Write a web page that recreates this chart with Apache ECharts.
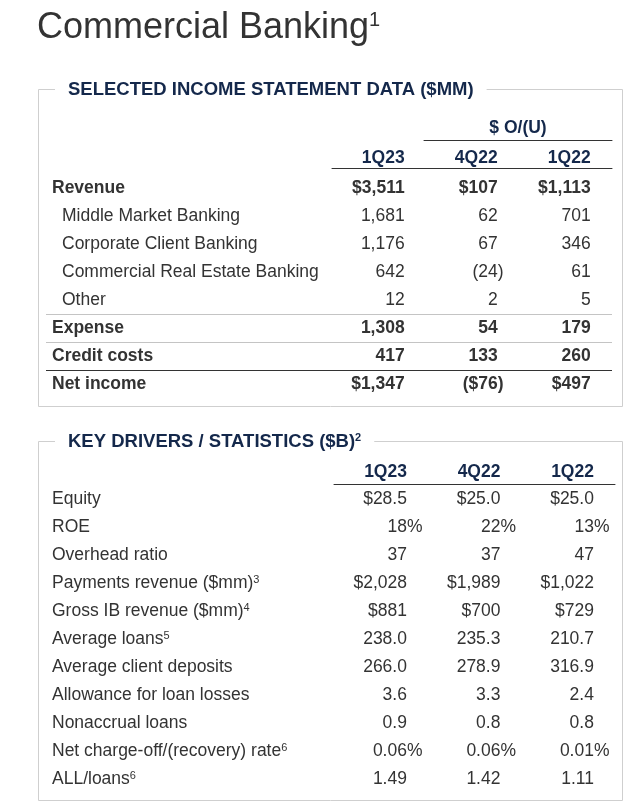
<!DOCTYPE html>
<html><head><meta charset="utf-8">
<script src="https://cdn.jsdelivr.net/npm/echarts@6/dist/echarts.min.js"></script>
<style>html,body{margin:0;padding:0;background:#fff}#c{width:632px;height:808px}</style>
</head><body><div id="c"></div>
<script>
// ---------------- DATA ----------------
const pageTitle = 'Commercial Banking';
const pageTitleNote = '1';
const section1Title = 'SELECTED INCOME STATEMENT DATA ($MM)';
const section2Title = 'KEY DRIVERS / STATISTICS ($B)';
const section2Note = '2';
const columns = ['1Q23', '4Q22', '1Q22'];
const changeHeader = '$ O/(U)';

const rows1 = ['Revenue', 'Middle Market Banking', 'Corporate Client Banking',
  'Commercial Real Estate Banking', 'Other', 'Expense', 'Credit costs', 'Net income'];
const boldRows1 = ['Revenue', 'Expense', 'Credit costs', 'Net income'];
const subRows1 = ['Middle Market Banking', 'Corporate Client Banking', 'Commercial Real Estate Banking', 'Other'];
const dollarRows1 = ['Revenue', 'Net income'];
const thinRuleBefore1 = ['Expense', 'Credit costs'];
const darkRuleBefore1 = ['Net income'];
const income1Q23 = [3511, 1681, 1176, 642, 12, 1308, 417, 1347];
const incomeVs4Q22 = [107, 62, 67, -24, 2, 54, 133, -76];
const incomeVs1Q22 = [1113, 701, 346, 61, 5, 179, 260, 497];

const rows2 = ['Equity', 'ROE', 'Overhead ratio', 'Payments revenue ($mm)', 'Gross IB revenue ($mm)',
  'Average loans', 'Average client deposits', 'Allowance for loan losses', 'Nonaccrual loans',
  'Net charge-off/(recovery) rate', 'ALL/loans'];
const notes2 = ['', '', '', '3', '4', '5', '', '', '', '6', '6'];
const stats1Q23 = [28.5, 18, 37, 2028, 881, 238.0, 266.0, 3.6, 0.9, 0.06, 1.49];
const stats4Q22 = [25.0, 22, 37, 1989, 700, 235.3, 278.9, 3.3, 0.8, 0.06, 1.42];
const stats1Q22 = [25.0, 13, 47, 1022, 729, 210.7, 316.9, 2.4, 0.8, 0.01, 1.11];
const prefix2 = ['$', '', '', '$', '$', '', '', '', '', '', ''];
const decimals2 = [1, 0, 0, 0, 0, 1, 1, 1, 1, 2, 2];
const suffix2 = ['', '%', '', '', '', '', '', '', '', '%', ''];

// ---------------- STYLE / LAYOUT ----------------
const FONT = '"Liberation Sans", Arial, Helvetica, sans-serif';
const TEXT = '#333333';
const NAVY = '#14284b';
const BOX = '#cfcfcf';
const THIN = '#c4c4c4';
const RULE = '#333333';
const FS = 17.5;
const CLEAR = 'rgba(0,0,0,0)';
const L1 = {anchor: 411, step: 93};
const L2 = {anchor: 423, step: 93.5};
function xr(left, width, L) { return {min: -(L.anchor - left) / L.step, max: (left + width - L.anchor) / L.step}; }

function num(v, d) { return Math.abs(v).toLocaleString('en-US', {minimumFractionDigits: d, maximumFractionDigits: d}); }
const txt = (w, c) => ({fontFamily: FONT, fontSize: FS, fontWeight: w, color: c || TEXT});

const G = {
  box1: {left: 38.5, top: 89.5, width: 584, height: 317},
  chg1: {left: 424, top: 140, width: 188, height: 10},
  hdr1: {left: 332, top: 148, width: 280, height: 20},
  body1: {left: 46, top: 174, width: 566, height: 224},
  box2: {left: 38.5, top: 441.5, width: 584, height: 359},
  hdr2: {left: 334, top: 460, width: 281, height: 24},
  body2: {left: 46, top: 485, width: 566, height: 308}
};
const hidden = {show: false};
const bare = {axisLine: hidden, axisTick: hidden, axisLabel: hidden, splitLine: hidden};
const ruleLine = {show: true, onZero: false, lineStyle: {color: RULE, width: 1}};

const grids = [
  Object.assign({show: true, borderColor: BOX, borderWidth: 1, backgroundColor: CLEAR}, G.box1),
  G.chg1, G.hdr1, G.body1,
  Object.assign({show: true, borderColor: BOX, borderWidth: 1, backgroundColor: CLEAR}, G.box2),
  G.hdr2, G.body2
];

const xAxes = [
  {gridIndex: 0, type: 'value', show: false},
  Object.assign({gridIndex: 1, type: 'value', position: 'top', min: 0, max: 1,
    name: changeHeader, nameLocation: 'middle', nameGap: 3,
    nameTextStyle: txt('bold', NAVY)}, bare, {axisLine: ruleLine}),
  Object.assign({gridIndex: 2, type: 'value', position: 'bottom'}, xr(G.hdr1.left, G.hdr1.width, L1), bare,
    {axisLine: ruleLine}),
  Object.assign({gridIndex: 3, type: 'value', show: false}, xr(G.body1.left, G.body1.width, L1)),
  {gridIndex: 4, type: 'value', show: false},
  Object.assign({gridIndex: 5, type: 'value', position: 'bottom'}, xr(G.hdr2.left, G.hdr2.width, L2), bare,
    {axisLine: ruleLine}),
  Object.assign({gridIndex: 6, type: 'value', show: false}, xr(G.body2.left, G.body2.width, L2))
];

const yAxes = [
  {gridIndex: 0, type: 'value', show: false},
  {gridIndex: 1, type: 'value', show: false},
  {gridIndex: 2, type: 'category', data: ['h'], show: false},
  Object.assign({gridIndex: 3, type: 'category', data: rows1, inverse: true}, bare, {
    axisLabel: {show: true, inside: true, margin: 6, interval: 0, hideOverlap: false,
      formatter: (n) => {
        const k = boldRows1.includes(n) ? 'b' : (subRows1.includes(n) ? 'i' : 'n');
        return '{' + k + '|' + n + '}';
      },
      rich: {b: txt('bold'), n: txt('normal'), i: Object.assign(txt('normal'), {padding: [0, 0, 0, 10]})}
    }
  }),
  {gridIndex: 3, type: 'value', show: false, inverse: true, min: 0, max: rows1.length},
  {gridIndex: 4, type: 'value', show: false},
  {gridIndex: 5, type: 'category', data: ['h'], show: false},
  Object.assign({gridIndex: 6, type: 'category', data: rows2, inverse: true}, bare, {
    axisLabel: {show: true, inside: true, margin: 6, interval: 0, hideOverlap: false,
      formatter: (n) => {
        const note = notes2[rows2.indexOf(n)];
        return '{n|' + n + '}' + (note ? '{s|' + note + '}' : '');
      },
      rich: {n: txt('normal'), s: {fontFamily: FONT, fontSize: 11, color: TEXT, verticalAlign: 'top'}}
    }
  })
];

const cellBase = {type: 'scatter', symbolSize: 1, itemStyle: {color: CLEAR, opacity: 1}, silent: true};

function headerSeries(xi, yi, padChar) {
  return Object.assign({}, cellBase, {
    xAxisIndex: xi, yAxisIndex: yi,
    data: columns.map((c, i) => [i, 0, c]),
    label: {show: true, position: 'left', distance: 0, opacity: 1,
      formatter: (p) => '{h|' + p.value[2] + '}{hp|' + padChar + '}',
      rich: {h: txt('bold', NAVY), hp: txt('bold', CLEAR)}}
  });
}

function incomeLabel(p) {
  const v = p.value[2], name = rows1[p.value[1]];
  const k = boldRows1.includes(name) ? 'b' : 'n';
  const s = (dollarRows1.includes(name) ? '$' : '') + num(v, 0);
  if (v < 0) return '{' + k + '|(' + s + ')}';
  return '{' + k + '|' + s + '}{' + k + 'p|)}';
}
function statLabel(p) {
  const v = p.value[2], r = p.value[1];
  const s = prefix2[r] + num(v, decimals2[r]) + suffix2[r];
  return suffix2[r] === '%' ? '{n|' + s + '}' : '{n|' + s + '}{np|%}';
}

const series = [headerSeries(2, 2, ')')];
[income1Q23, incomeVs4Q22, incomeVs1Q22].forEach((arr, c) => {
  series.push(Object.assign({}, cellBase, {
    name: columns[c], xAxisIndex: 3, yAxisIndex: 3,
    data: arr.map((v, r) => [c, r, v]),
    label: {show: true, position: 'left', distance: 0, opacity: 1, formatter: incomeLabel,
      rich: {b: txt('bold'), n: txt('normal'), bp: txt('bold', CLEAR), np: txt('normal', CLEAR)}}
  }));
});
series.push({
  type: 'line', xAxisIndex: 3, yAxisIndex: 4, data: [], silent: true,
  markLine: {symbol: 'none', silent: true, animation: false, label: {show: false},
    data: thinRuleBefore1.map(n => ({yAxis: rows1.indexOf(n), lineStyle: {color: THIN, width: 1, type: 'solid'}}))
      .concat(darkRuleBefore1.map(n => ({yAxis: rows1.indexOf(n), lineStyle: {color: RULE, width: 1, type: 'solid'}})))
  }
});
series.push(headerSeries(5, 6, '%'));
[stats1Q23, stats4Q22, stats1Q22].forEach((arr, c) => {
  series.push(Object.assign({}, cellBase, {
    name: columns[c] + ' stats', xAxisIndex: 6, yAxisIndex: 7,
    data: arr.map((v, r) => [c, r, v]),
    label: {show: true, position: 'left', distance: 0, opacity: 1, formatter: statLabel,
      rich: {n: txt('normal'), np: txt('normal', CLEAR)}}
  }));
});

const option = {
  animation: false,
  backgroundColor: '#ffffff',
  title: [
    {text: '{t|' + pageTitle + '}{s|' + pageTitleNote + '}', left: 37, top: 10, padding: 0,
      textStyle: {fontWeight: 'normal', rich: {t: {fontFamily: FONT, fontSize: 36, fontWeight: 'normal', color: TEXT},
        s: {fontFamily: FONT, fontSize: 20, fontWeight: 'normal', color: TEXT, verticalAlign: 'top'}}}},
    {text: section1Title, left: 55, top: 79, padding: [1, 13, 1, 13], backgroundColor: '#ffffff',
      textStyle: {fontFamily: FONT, fontSize: 18.5, fontWeight: 'bold', color: NAVY}},
    {text: '{t|' + section2Title + '}{s|' + section2Note + '}', left: 55, top: 431, padding: [1, 13, 1, 13],
      backgroundColor: '#ffffff',
      textStyle: {rich: {t: {fontFamily: FONT, fontSize: 18.5, fontWeight: 'bold', color: NAVY},
        s: {fontFamily: FONT, fontSize: 11, fontWeight: 'bold', color: NAVY, verticalAlign: 'top'}}}}
  ],
  grid: grids,
  xAxis: xAxes,
  yAxis: yAxes,
  series: series
};
const chart = echarts.init(document.getElementById('c'), null, {renderer: 'canvas'});
chart.setOption(option);
</script></body></html>
